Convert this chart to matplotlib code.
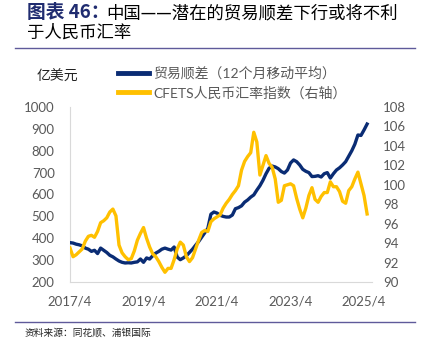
import numpy as np
import matplotlib.pyplot as plt
from matplotlib.lines import Line2D

# monthly, 2017/4 .. 2025/5
months = np.arange(98)
tick_pos = [0, 24, 48, 72, 96]
tick_labels = ['2017/4', '2019/4', '2021/4', '2023/4', '2025/4']

# trade surplus, 12m moving average (100m USD)
surplus = [380, 378, 373, 370, 365, 355, 350, 340, 345, 330,
           355, 345, 335, 322, 315, 305, 296, 290, 287, 288,
           287, 290, 292, 305, 290, 310, 305, 320, 332, 340,
           350, 355, 350, 346, 360, 314, 302, 310, 320, 335,
           350, 368, 385, 405, 425, 445, 510, 520, 515, 505,
           500, 497, 497, 506, 535, 540, 548, 565, 575, 588,
           598, 620, 640, 665, 695, 720, 730, 726, 718, 705,
           698, 712, 744, 758, 750, 735, 715, 706, 700, 682,
           683, 686, 680, 695, 700, 675, 695, 712, 722, 735,
           750, 775, 800, 830, 872, 870, 895, 922]

# CFETS RMB index (right axis)
cfets = [93.5, 92.6, 92.8, 93.1, 93.4, 94.2, 94.7, 94.8, 94.6, 95.2,
         96.1, 96.3, 96.6, 97.2, 97.5, 96.8, 93.8, 93.0, 92.6, 92.3,
         92.4, 93.2, 94.3, 95.0, 95.6, 94.5, 93.6, 92.9, 92.6, 92.1,
         91.5, 91.0, 91.4, 91.4, 92.3, 93.4, 94.1, 93.8, 92.6, 92.1,
         92.5, 93.4, 94.3, 95.1, 95.3, 95.2, 96.2, 96.5, 96.7, 96.9,
         97.6, 98.1, 98.5, 99.0, 99.4, 99.9, 101.5, 102.4, 102.9, 103.3,
         105.4, 104.4, 101.0, 102.0, 103.0, 102.2, 101.8, 100.6, 98.2, 98.4,
         99.9, 100.0, 100.1, 99.9, 98.6, 97.5, 96.6, 97.6, 98.9, 99.7,
         98.5, 98.2, 98.8, 99.2, 99.2, 100.3, 99.8, 99.8, 99.3, 98.3,
         98.1, 99.4, 99.8, 100.6, 101.3, 100.1, 98.9, 97.0]

blue = '#0A2C74'
yellow = '#FFC000'
grey = '#595959'
num_font = ['Lato', 'Noto Sans CJK SC']
cjk_font = ['Noto Sans CJK SC', 'DejaVu Sans']

W, H = 424, 351
fig = plt.figure(figsize=(W / 100, H / 100), dpi=100)
ax = fig.add_axes([70 / W, 1 - 282 / H, 302 / W, 175 / H])
ax2 = ax.twinx()

l1, = ax.plot(months, surplus, color=blue, lw=2.4, zorder=3)
l2, = ax2.plot(months, cfets, color=yellow, lw=2.4, zorder=2)

ax.set_xlim(0, 98.6)
ax.set_ylim(200, 1000)
ax.set_yticks(np.arange(200, 1001, 100))
ax2.set_ylim(90, 108)
ax2.set_yticks(np.arange(90, 109, 2))
ax.set_xticks(tick_pos)
ax.set_xticklabels(tick_labels)

for a in (ax, ax2):
    for s in a.spines.values():
        s.set_visible(False)
    a.tick_params(length=0, colors=grey, labelsize=9.5)
    for lab in a.get_xticklabels() + a.get_yticklabels():
        lab.set_family(num_font)
ax.spines['left'].set_visible(True)
ax.spines['bottom'].set_visible(True)
ax.spines['left'].set_color('#D9D9D9')
ax.spines['bottom'].set_color('#D9D9D9')
ax.tick_params(axis='y', pad=11)
ax.tick_params(axis='x', pad=10)
ax2.tick_params(axis='y', pad=8)

# title
fig.text(27 / W, 1 - 13 / H, '图表 46：', fontsize=13.5, fontweight='bold',
         color='#202C70', family=cjk_font, va='center')
fig.text(106 / W, 1 - 13 / H, '中国——潜在的贸易顺差下行或将不利', fontsize=12.5,
         color='black', family=cjk_font, va='center')
fig.text(27 / W, 1 - 33 / H, '于人民币汇率', fontsize=12.5,
         color='black', family=cjk_font, va='center')
fig.add_artist(Line2D([15 / W, 415 / W], [1 - 48 / H, 1 - 48 / H],
                      color='#5F5A9A', lw=1))
fig.add_artist(Line2D([15 / W, 415 / W], [1 - 322 / H, 1 - 322 / H],
                      color='#5F5A9A', lw=1))
fig.text(25 / W, 1 - 333 / H, '资料来源：同花顺、浦银国际', fontsize=7,
         color='#222222', family=cjk_font, va='center')

fig.text(37 / W, 1 - 77 / H, '亿美元', fontsize=10, color='#222222',
         family=cjk_font, va='center')

leg = fig.legend([l1, l2], ['贸易顺差（12个月移动平均）', 'CFETS人民币汇率指数（右轴）'],
                 loc='upper left', bbox_to_anchor=(118 / W, 1 - 66 / H),
                 frameon=False, borderpad=0, borderaxespad=0,
                 handlelength=2.2, handletextpad=0.35, labelspacing=0.45,
                 prop={'family': num_font, 'size': 10})
for t in leg.get_texts():
    t.set_color(grey)
for h in leg.legend_handles:
    h.set_linewidth(3.5)

fig.savefig('out.png', dpi=100)
